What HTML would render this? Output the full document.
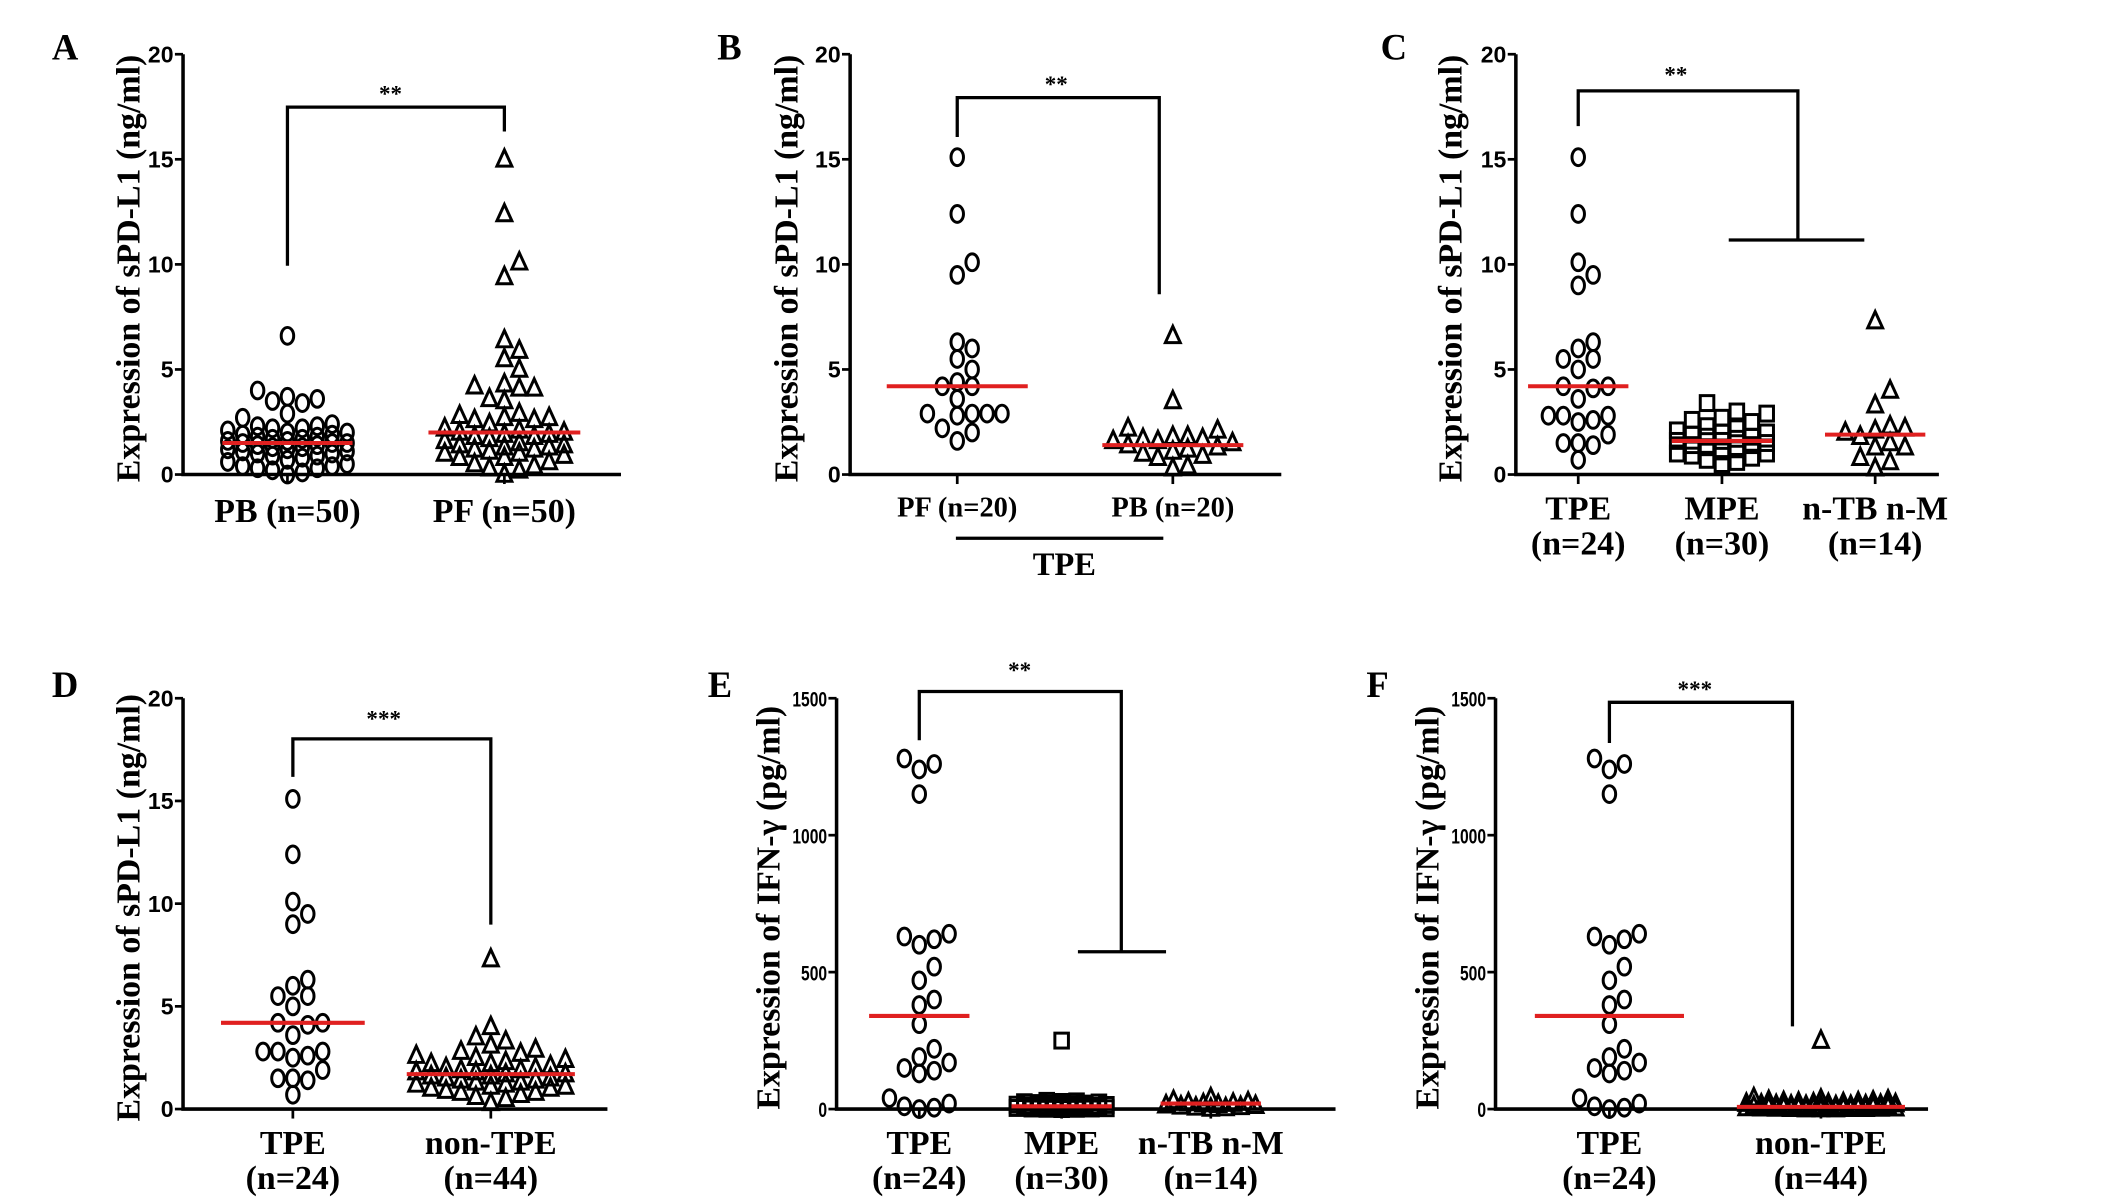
<!DOCTYPE html>
<html><head><meta charset="utf-8"><style>
html,body{margin:0;padding:0;background:#fff}
svg{display:block}
.t{font-family:"Liberation Serif",serif;font-weight:bold;fill:#000}
.tk{font-family:"Liberation Sans Narrow","Liberation Sans",sans-serif;font-weight:bold;fill:#000;text-anchor:end}
</style></head><body>
<svg id="fig" width="2126" height="1198" viewBox="0 0 1568 883.6" preserveAspectRatio="none" xmlns="http://www.w3.org/2000/svg"></svg>
<script>
// ---- data ----
const aCats=["PB (n=50)","PF (n=50)"];
const aPB=[6.6,4.0,3.7,3.6,3.5,3.4,2.9,2.7,2.4,2.3,2.3,2.2,2.2,2.1,2.0,2.0,1.9,1.9,1.8,1.8,1.7,1.7,1.6,1.6,1.5,1.5,1.5,1.4,1.4,1.3,1.3,1.2,1.2,1.1,1.1,1.0,1.0,0.9,0.9,0.8,0.7,0.6,0.5,0.4,0.4,0.3,0.3,0.2,0.1,0.0];
const aPF=[15.0,12.4,10.1,9.4,6.4,5.9,5.5,5.0,4.3,4.2,4.1,4.1,3.6,3.5,2.9,2.8,2.7,2.7,2.6,2.6,2.4,2.2,2.1,2.0,2.0,1.9,1.9,1.8,1.8,1.7,1.6,1.5,1.4,1.4,1.3,1.3,1.2,1.2,1.1,1.0,1.0,0.9,0.8,0.8,0.6,0.5,0.4,0.3,0.2,0.0];
const aMed=[1.5,2.0];
const bCats=["PF (n=20)","PB (n=20)"];
const bPF=[15.1,12.4,10.1,9.5,6.3,6.0,5.5,5.0,4.4,4.2,4.2,3.6,2.9,2.9,2.9,2.9,2.8,2.2,2.0,1.6];
const bPB=[6.6,3.5,2.2,2.1,1.8,1.8,1.7,1.7,1.6,1.6,1.5,1.4,1.3,1.2,1.1,1.0,0.9,0.8,0.4,0.3];
const bMed=[4.2,1.4];
const tpe=[15.1,12.4,10.1,9.5,9.0,6.3,6.0,5.5,5.5,5.0,4.2,4.2,4.1,3.6,2.8,2.8,2.8,2.6,2.5,1.9,1.5,1.5,1.4,0.7];
const cCats=[["TPE","(n=24)"],["MPE","(n=30)"],["n-TB n-M","(n=14)"]];
const cMPE=[3.4,3.0,2.9,2.7,2.6,2.5,2.3,2.2,2.1,2.0,2.0,1.9,1.8,1.8,1.7,1.6,1.6,1.5,1.4,1.4,1.3,1.2,1.1,1.0,1.0,0.9,0.8,0.7,0.6,0.5];
const cNTB=[7.3,4.0,3.3,2.3,2.2,2.1,2.0,1.8,1.5,1.3,1.3,0.8,0.6,0.3];
const cMed=[4.2,1.6,1.9];
const dCats=[["TPE","(n=24)"],["non-TPE","(n=44)"]];
const dNon=[7.3,4.0,3.5,3.3,3.1,2.9,2.8,2.7,2.6,2.5,2.4,2.3,2.2,2.2,2.1,2.0,2.0,1.9,1.9,1.8,1.8,1.7,1.7,1.6,1.6,1.5,1.5,1.4,1.4,1.3,1.3,1.2,1.2,1.1,1.1,1.0,1.0,0.9,0.8,0.8,0.7,0.6,0.5,0.3];
const dMed=[4.2,1.7];
const ifnTPE=[1280,1260,1240,1150,640,620,630,600,520,470,400,380,310,220,190,170,150,140,130,40,20,10,5,0];
const eMPE=[250,30,28,26,25,24,22,20,20,18,16,15,14,12,12,10,10,9,8,7,6,5,5,4,3,2,2,1,1,0];
const eNTB=[40,30,25,22,20,18,16,14,12,10,8,6,4,2];
const eMed=[340,10,20];
const fNon=[250,40,35,32,30,28,26,25,24,22,21,20,19,18,17,16,15,14,13,12,12,11,10,10,9,8,8,7,6,6,5,5,4,4,3,3,2,2,1,1,1,0,0,0];
const fMed=[340,8];
const sTicks=[0,5,10,15,20];
const iTicks=[0,500,1000,1500];

const NS="http://www.w3.org/2000/svg";
const svg=document.getElementById('fig');
function mk(tag,attrs,parent){const e=document.createElementNS(NS,tag);for(const k in attrs)e.setAttribute(k,attrs[k]);(parent||svg).appendChild(e);return e;}
function txt(x,y,s,size,cls,parent,anchor){const e=mk('text',{x:x,y:y,class:cls,'font-size':size,'text-anchor':anchor||'middle'},parent);e.textContent=s;return e;}

function panel(o){
  const g=mk('g',{});
  
  
  const y=v=>o.y0-(v-o.ymin)/(o.ymax-o.ymin)*(o.y0-o.y1);
  const L=txt(o.lx,o.ly,o.letter,27,'t',g);
  
  
  const ax=mk('path',{d:`M${o.x0} ${o.y1}V${o.y0}H${o.x2}`,stroke:'#000','stroke-width':2.6,fill:'none'},g);
  
  
  const tks=o.tks||17;
  o.ticks.forEach(t=>{
    mk('line',{x1:o.x0-6,x2:o.x0,y1:y(t),y2:y(t),stroke:'#000','stroke-width':2},g);
    const tl=mk('text',{class:'tk','font-size':tks,transform:`translate(${o.x0-7},${y(t)+6}) scale(${o.tsx||1},1)`},g);
    tl.textContent=String(t);
    
    
  });
  const yt=mk('text',{class:'t','font-size':o.tsize||25,'text-anchor':'middle',transform:`translate(${o.tx},${(o.y0+o.y1)/2+3}) rotate(-90)`},g);
  yt.textContent=o.title;
  
  
  o.groups.forEach((gr,i)=>{
    const cx=o.cx[i];
    mk('line',{x1:cx,x2:cx,y1:o.y0,y2:o.y0+7,stroke:'#000','stroke-width':2},g);
    const placed=[];const w=11,h=12;const maxw=gr.sw||gr.mw;
    const offs=[0];
    for(let k=1;k*w/2<=maxw;k++){offs.push(k*w/2,-k*w/2);}
    gr.data.slice().sort((a,b)=>a-b).forEach(v=>{
      const py=y(v);let px=null,best=-1,bx=cx;
      for(const off of offs){
        let md=1e9;
        placed.forEach(p=>{const dx=Math.abs(p[0]-(cx+off))/w,dy=Math.abs(p[1]-py)/h;const d=Math.max(dx,dy);if(d<md)md=d;});
        if(md>=1){px=cx+off;break;}
        if(md>best){best=md;bx=cx+off;}
      }
      if(px===null)px=bx;
      placed.push([px,py]);
      let m;
      if(gr.shape==='c') m=mk('ellipse',{cx:px,cy:py,rx:4.6,ry:6.2,fill:'none',stroke:'#000','stroke-width':2.2},g);
      else if(gr.shape==='t') m=mk('path',{d:`M${px} ${py-7}L${px+5.5} ${py+5}L${px-5.5} ${py+5}Z`,fill:'none',stroke:'#000','stroke-width':2.2},g);
      else m=mk('rect',{x:px-5,y:py-5.5,width:10,height:11,fill:'none',stroke:'#000','stroke-width':2.2},g);
      
      
    });
    const md=mk('line',{x1:cx-gr.mw,x2:cx+gr.mw,y1:y(gr.med),y2:y(gr.med),stroke:'#e02020','stroke-width':3},g);
    
    
    const lab=gr.label;
    if(Array.isArray(lab)){
      const a=txt(cx,o.y0+33,lab[0],25,'t',g);
      const b=txt(cx,o.y0+59,lab[1],25,'t',g);
    } else {
      const a=txt(cx,o.y0+(o.lsOff||35),lab,o.lsize||25,'t',g);
    }
  });
  const br=mk('path',{d:o.bracket,stroke:'#000','stroke-width':2.4,fill:'none'},g);
  
  
  const st=txt(o.sx,o.sy,o.stars,17,'t',g);
  
  
  return g;
}
const ST="Expression of sPD-L1 (ng/ml)", IT="Expression of IFN-γ (pg/ml)";
panel({letter:'A',lx:48,ly:44,x0:135,x2:458,y0:350,y1:40,ymin:0,ymax:20,ticks:sTicks,title:ST,tx:103,
  cx:[212,372],groups:[{data:aPB,shape:'c',med:aMed[0],mw:48,sw:48,label:aCats[0]},{data:aPF,shape:'t',med:aMed[1],mw:56,sw:50,label:aCats[1]}],
  bracket:'M212 196V79H372V97',sx:288,sy:75,stars:'**'});
const pb=panel({letter:'B',lx:538,ly:44,x0:627,x2:945,y0:350,y1:40,ymin:0,ymax:20,ticks:sTicks,title:ST,tx:588,lsize:21,lsOff:31,
  cx:[706,865],groups:[{data:bPF,shape:'c',med:bMed[0],mw:52,sw:40,label:bCats[0]},{data:bPB,shape:'t',med:bMed[1],mw:52,sw:45,label:bCats[1]}],
  bracket:'M706 101V72H855V217',sx:779,sy:68,stars:'**'});
const ul=mk('line',{x1:705,x2:858,y1:397,y2:397,stroke:'#000','stroke-width':2.4},pb);


const tp=txt(785,424,'TPE',24,'t',pb);


panel({letter:'C',lx:1028,ly:44,x0:1118,x2:1430,y0:350,y1:40,ymin:0,ymax:20,ticks:sTicks,title:ST,tx:1078,
  cx:[1164,1270,1383],groups:[{data:tpe,shape:'c',med:cMed[0],mw:37,sw:36,label:cCats[0]},{data:cMPE,shape:'s',med:cMed[1],mw:37,sw:36,label:cCats[1]},{data:cNTB,shape:'t',med:cMed[2],mw:37,sw:36,label:cCats[2]}],
  bracket:'M1164 93V67H1326V177M1275 177H1375',sx:1236,sy:61,stars:'**'});
panel({letter:'D',lx:48,ly:514,x0:135,x2:448,y0:818,y1:515,ymin:0,ymax:20,ticks:sTicks,title:ST,tx:103,
  cx:[216,362],groups:[{data:tpe,shape:'c',med:dMed[0],mw:53,sw:45,label:dCats[0]},{data:dNon,shape:'t',med:dMed[1],mw:62,sw:55,label:dCats[1]}],
  bracket:'M216 573V545H362V682',sx:283,sy:536,stars:'***'});
panel({letter:'E',lx:531,ly:514,x0:617,x2:985,y0:818,y1:515,ymin:0,ymax:1500,ticks:iTicks,title:IT,tx:575,tks:16,tsx:0.72,
  cx:[678,783,893],groups:[{data:ifnTPE,shape:'c',med:eMed[0],mw:37,sw:36,label:cCats[0]},{data:eMPE,shape:'s',med:eMed[1],mw:37,sw:36,label:cCats[1]},{data:eNTB,shape:'t',med:eMed[2],mw:37,sw:36,label:cCats[2]}],
  bracket:'M678 546V510H827V702M795 702H860',sx:752,sy:500,stars:'**'});
panel({letter:'F',lx:1016,ly:514,x0:1103,x2:1422,y0:818,y1:515,ymin:0,ymax:1500,ticks:iTicks,title:IT,tx:1061,tks:16,tsx:0.72,
  cx:[1187,1343],groups:[{data:ifnTPE,shape:'c',med:fMed[0],mw:55,sw:40,label:dCats[0]},{data:fNon,shape:'t',med:fMed[1],mw:62,sw:60,label:dCats[1]}],
  bracket:'M1187 548V518H1322V757',sx:1250,sy:514,stars:'***'});
</script>
</body></html>
